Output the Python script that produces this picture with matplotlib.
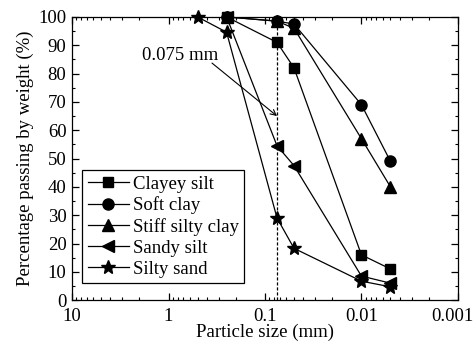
import matplotlib
matplotlib.use("Agg")
import matplotlib.pyplot as plt
import matplotlib.transforms as mtransforms
from matplotlib.ticker import LogLocator, MultipleLocator, NullFormatter

plt.rcParams['font.family'] = ['Liberation Serif', 'DejaVu Serif']

sizes = [0.25, 0.075, 0.05, 0.01, 0.005]
sizes_sand = [0.5, 0.25, 0.075, 0.05, 0.01, 0.005]

clayey_silt = [100, 91, 82, 16, 11]
soft_clay = [100, 98.5, 97.5, 69, 49]
stiff_silty_clay = [100, 98.5, 96, 57, 40]
sandy_silt = [100, 54.5, 47.5, 8.5, 6]
silty_sand = [100, 94.6, 29, 18.3, 6.7, 4.7]

labels = ["Clayey silt", "Soft clay", "Stiff silty clay", "Sandy silt", "Silty sand"]
cutoff = 0.075

FS = 13.5

fig = plt.figure(figsize=(4.74, 3.45), dpi=100)
ax = fig.add_axes([0.152, 0.130, 0.814, 0.821])

kw = dict(color='black', lw=0.9, markerfacecolor='black', markeredgecolor='black', clip_on=False)
ax.plot(sizes, clayey_silt, marker='s', ms=7, label=labels[0], **kw)
ax.plot(sizes, soft_clay, marker='o', ms=8, label=labels[1], **kw)
ax.plot(sizes, stiff_silty_clay, marker='^', ms=8.5, label=labels[2], **kw)
ax.plot(sizes, sandy_silt, marker='<', ms=9, label=labels[3], **kw)
ax.plot(sizes_sand, silty_sand, marker='*', ms=10.5, label=labels[4], **kw)

ax.axvline(cutoff, color='black', lw=0.9, ls=(0, (2.5, 1.5)))

ax.set_xscale('log')
ax.set_xlim(10, 0.001)
ax.set_ylim(0, 100)
ax.set_xticks([10, 1, 0.1, 0.01, 0.001])
ax.set_xticklabels(['10', '1', '0.1', '0.01', '0.001'])
ax.xaxis.set_minor_locator(LogLocator(base=10, subs=range(2, 10), numticks=20))
ax.xaxis.set_minor_formatter(NullFormatter())
ax.yaxis.set_major_locator(MultipleLocator(10))
ax.yaxis.set_minor_locator(MultipleLocator(5))

ax.tick_params(which='both', direction='in', top=True, right=True, labelsize=FS)
ax.tick_params(axis='x', pad=6)
ax.tick_params(axis='y', pad=4)
ax.tick_params(which='major', length=5, width=0.9)
ax.tick_params(which='minor', length=2.5, width=0.8)
for s in ax.spines.values():
    s.set_linewidth(0.9)

# nudge the last x tick label left so it stays inside the figure
lbls = ax.get_xticklabels()
off = mtransforms.ScaledTranslation(-6 / 100, 0, fig.dpi_scale_trans)
lbls[-1].set_transform(lbls[-1].get_transform() + off)

ax.set_xlabel('Particle size (mm)', fontsize=FS, labelpad=-1)
ax.set_ylabel('Percentage passing by weight (%)', fontsize=FS, labelpad=3)

ax.text(1.88, 86.5, '0.075 mm', fontsize=FS, ha='left', va='center')
ax.annotate('', xy=(cutoff, 65), xytext=(0.354, 83.7),
            arrowprops=dict(arrowstyle='->', color='black', lw=0.8,
                            shrinkA=0, shrinkB=0))

leg = ax.legend(loc='lower left', bbox_to_anchor=(0.026, 0.06), fontsize=FS,
                frameon=True, fancybox=False, edgecolor='black', framealpha=1,
                handlelength=2.2, handletextpad=0.2, labelspacing=0.2,
                borderpad=0.3, borderaxespad=0)
leg.get_frame().set_linewidth(0.9)

fig.savefig('out.png', dpi=100)
